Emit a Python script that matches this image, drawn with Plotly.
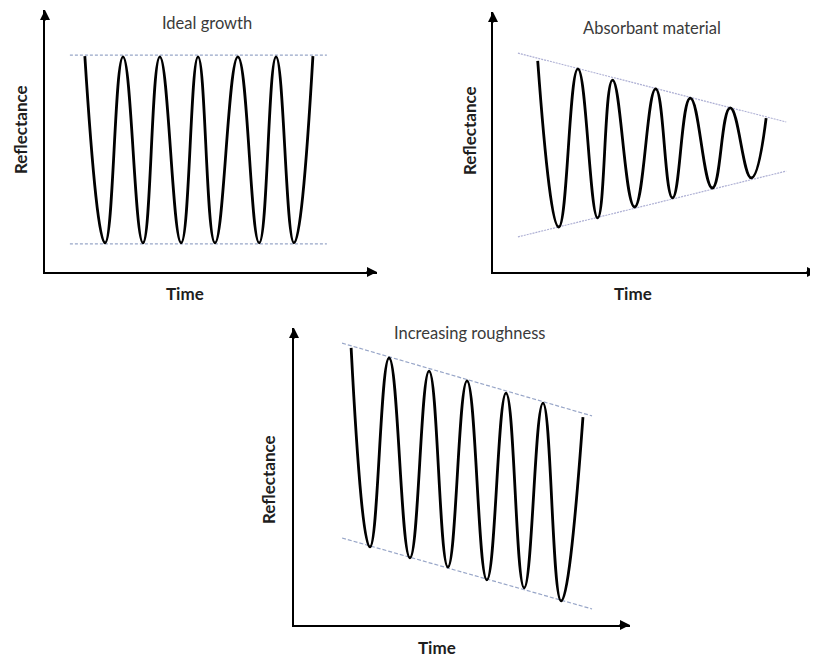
import plotly.graph_objects as go

# ---------------- data (arbitrary units: time 0-10, reflectance 0-10) ----------------
# Panel 1: Ideal growth
ideal_time = [1.20, 1.81, 2.35, 2.95, 3.46, 4.10, 4.61, 5.12, 5.81, 6.45, 6.96, 7.50, 8.07]
ideal_refl = [8.24, 1.11, 8.21, 1.11, 8.21, 1.11, 8.21, 1.11, 8.21, 1.11, 8.21, 1.11, 8.24]
ideal_env_time = [0.75, 8.49]
ideal_env_upper = [8.28, 8.28]
ideal_env_lower = [1.07, 1.07]

# Panel 2: Absorbant material
absorb_time = [1.38, 2.03, 2.62, 3.23, 3.69, 4.37, 5.02, 5.54, 6.09, 6.77, 7.32, 7.97, 8.43]
absorb_refl = [8.12, 1.73, 7.81, 2.08, 7.38, 2.50, 7.04, 2.85, 6.69, 3.23, 6.31, 3.62, 5.92]
absorb_env_time = [0.77, 9.05]
absorb_env_upper = [8.42, 5.77]
absorb_env_lower = [1.35, 3.88]

# Panel 3: Increasing roughness
rough_time = [1.70, 2.26, 2.83, 3.45, 4.02, 4.58, 5.15, 5.74, 6.31, 6.85, 7.41, 7.95, 8.60]
rough_refl = [9.33, 2.63, 8.99, 2.26, 8.55, 1.95, 8.22, 1.52, 7.81, 1.25, 7.47, 0.81, 7.00]
rough_env_time = [1.43, 8.87]
rough_env_upper = [9.49, 7.04]
rough_env_lower = [2.93, 0.54]

titles = ["Ideal growth", "Absorbant material", "Increasing roughness"]
x_label = "Time"
y_label = "Reflectance"

# page body has an 8px margin: figure is drawn from (8, 8) of the window
OFF = 8
W, H = 818 - OFF, 659 - OFF
FONT = "Lato, Open Sans, sans-serif"

panels = [
    dict(t=ideal_time, r=ideal_refl, et=ideal_env_time, eu=ideal_env_upper, el=ideal_env_lower,
         env_color="#98a6c8", env_dash="3px,2px",
         px=(45, 377), py=(272, 10), title_pos=(207, 23), ylab_pos=(20, 130), xlab_pos=(185, 293)),
    dict(t=absorb_time, r=absorb_refl, et=absorb_env_time, eu=absorb_env_upper, el=absorb_env_lower,
         env_color="#aeb0d4", env_dash="2px,1px",
         px=(493, 817), py=(272, 12), title_pos=(652, 28), ylab_pos=(469, 130), xlab_pos=(633, 293)),
    dict(t=rough_time, r=rough_refl, et=rough_env_time, eu=rough_env_upper, el=rough_env_lower,
         env_color="#98a6c8", env_dash="4px,2px",
         px=(294, 630), py=(625, 328), title_pos=(470, 333), ylab_pos=(268, 480), xlab_pos=(437, 647)),
]

fig = go.Figure()
annotations = []
layout_axes = {}

def fx(px):
    return (px - OFF) / W

def fy(py):
    return 1 - (py - OFF) / H

for i, p in enumerate(panels):
    n = "" if i == 0 else str(i + 1)
    xa, ya = "x" + n, "y" + n
    for env in (p["eu"], p["el"]):
        fig.add_trace(go.Scatter(x=p["et"], y=env, mode="lines", xaxis=xa, yaxis=ya,
                                 line=dict(color=p["env_color"], width=1.2, dash=p["env_dash"]),
                                 showlegend=False, hoverinfo="skip"))
    fig.add_trace(go.Scatter(x=p["t"], y=p["r"], mode="lines", xaxis=xa, yaxis=ya,
                             line=dict(color="black", width=2.8, shape="spline", smoothing=1.3),
                             showlegend=False))

    dom_x = [max(0, fx(p["px"][0])), min(1, fx(p["px"][1]))]
    dom_y = [max(0, fy(p["py"][0])), min(1, fy(p["py"][1]))]
    common = dict(showgrid=False, zeroline=False, showticklabels=False, ticks="",
                  showline=True, linecolor="black", linewidth=2, range=[0, 10], fixedrange=True)
    layout_axes["xaxis" + n] = dict(domain=dom_x, anchor=ya, **common)
    layout_axes["yaxis" + n] = dict(domain=dom_y, anchor=xa, **common)

    annotations.append(dict(x=1, y=0, xref=xa + " domain", yref=ya + " domain", text="",
                            showarrow=True, arrowhead=2, arrowsize=1, arrowwidth=2, arrowcolor="black",
                            axref="pixel", ayref="pixel", ax=-12, ay=0, standoff=0))
    annotations.append(dict(x=0, y=1, xref=xa + " domain", yref=ya + " domain", text="",
                            showarrow=True, arrowhead=2, arrowsize=1, arrowwidth=2, arrowcolor="black",
                            axref="pixel", ayref="pixel", ax=0, ay=12, standoff=0))
    tx, ty = p["title_pos"]
    annotations.append(dict(x=fx(tx), y=fy(ty), xref="paper", yref="paper", text=titles[i],
                            showarrow=False, font=dict(family=FONT, size=16.5, color="#3a3a3a"),
                            xanchor="center", yanchor="middle"))
    lx, ly = p["ylab_pos"]
    annotations.append(dict(x=fx(lx), y=fy(ly), xref="paper", yref="paper", text="<b>" + y_label + "</b>",
                            showarrow=False, textangle=-90, font=dict(family=FONT, size=17, color="#1e1e1e"),
                            xanchor="center", yanchor="middle"))
    bx, by = p["xlab_pos"]
    annotations.append(dict(x=fx(bx), y=fy(by), xref="paper", yref="paper", text="<b>" + x_label + "</b>",
                            showarrow=False, font=dict(family=FONT, size=17, color="#1e1e1e"),
                            xanchor="center", yanchor="middle"))

fig.update_layout(width=W, height=H, margin=dict(l=0, r=0, t=0, b=0),
                  paper_bgcolor="white", plot_bgcolor="white",
                  annotations=annotations, **layout_axes)

fig.write_html("out.html")
